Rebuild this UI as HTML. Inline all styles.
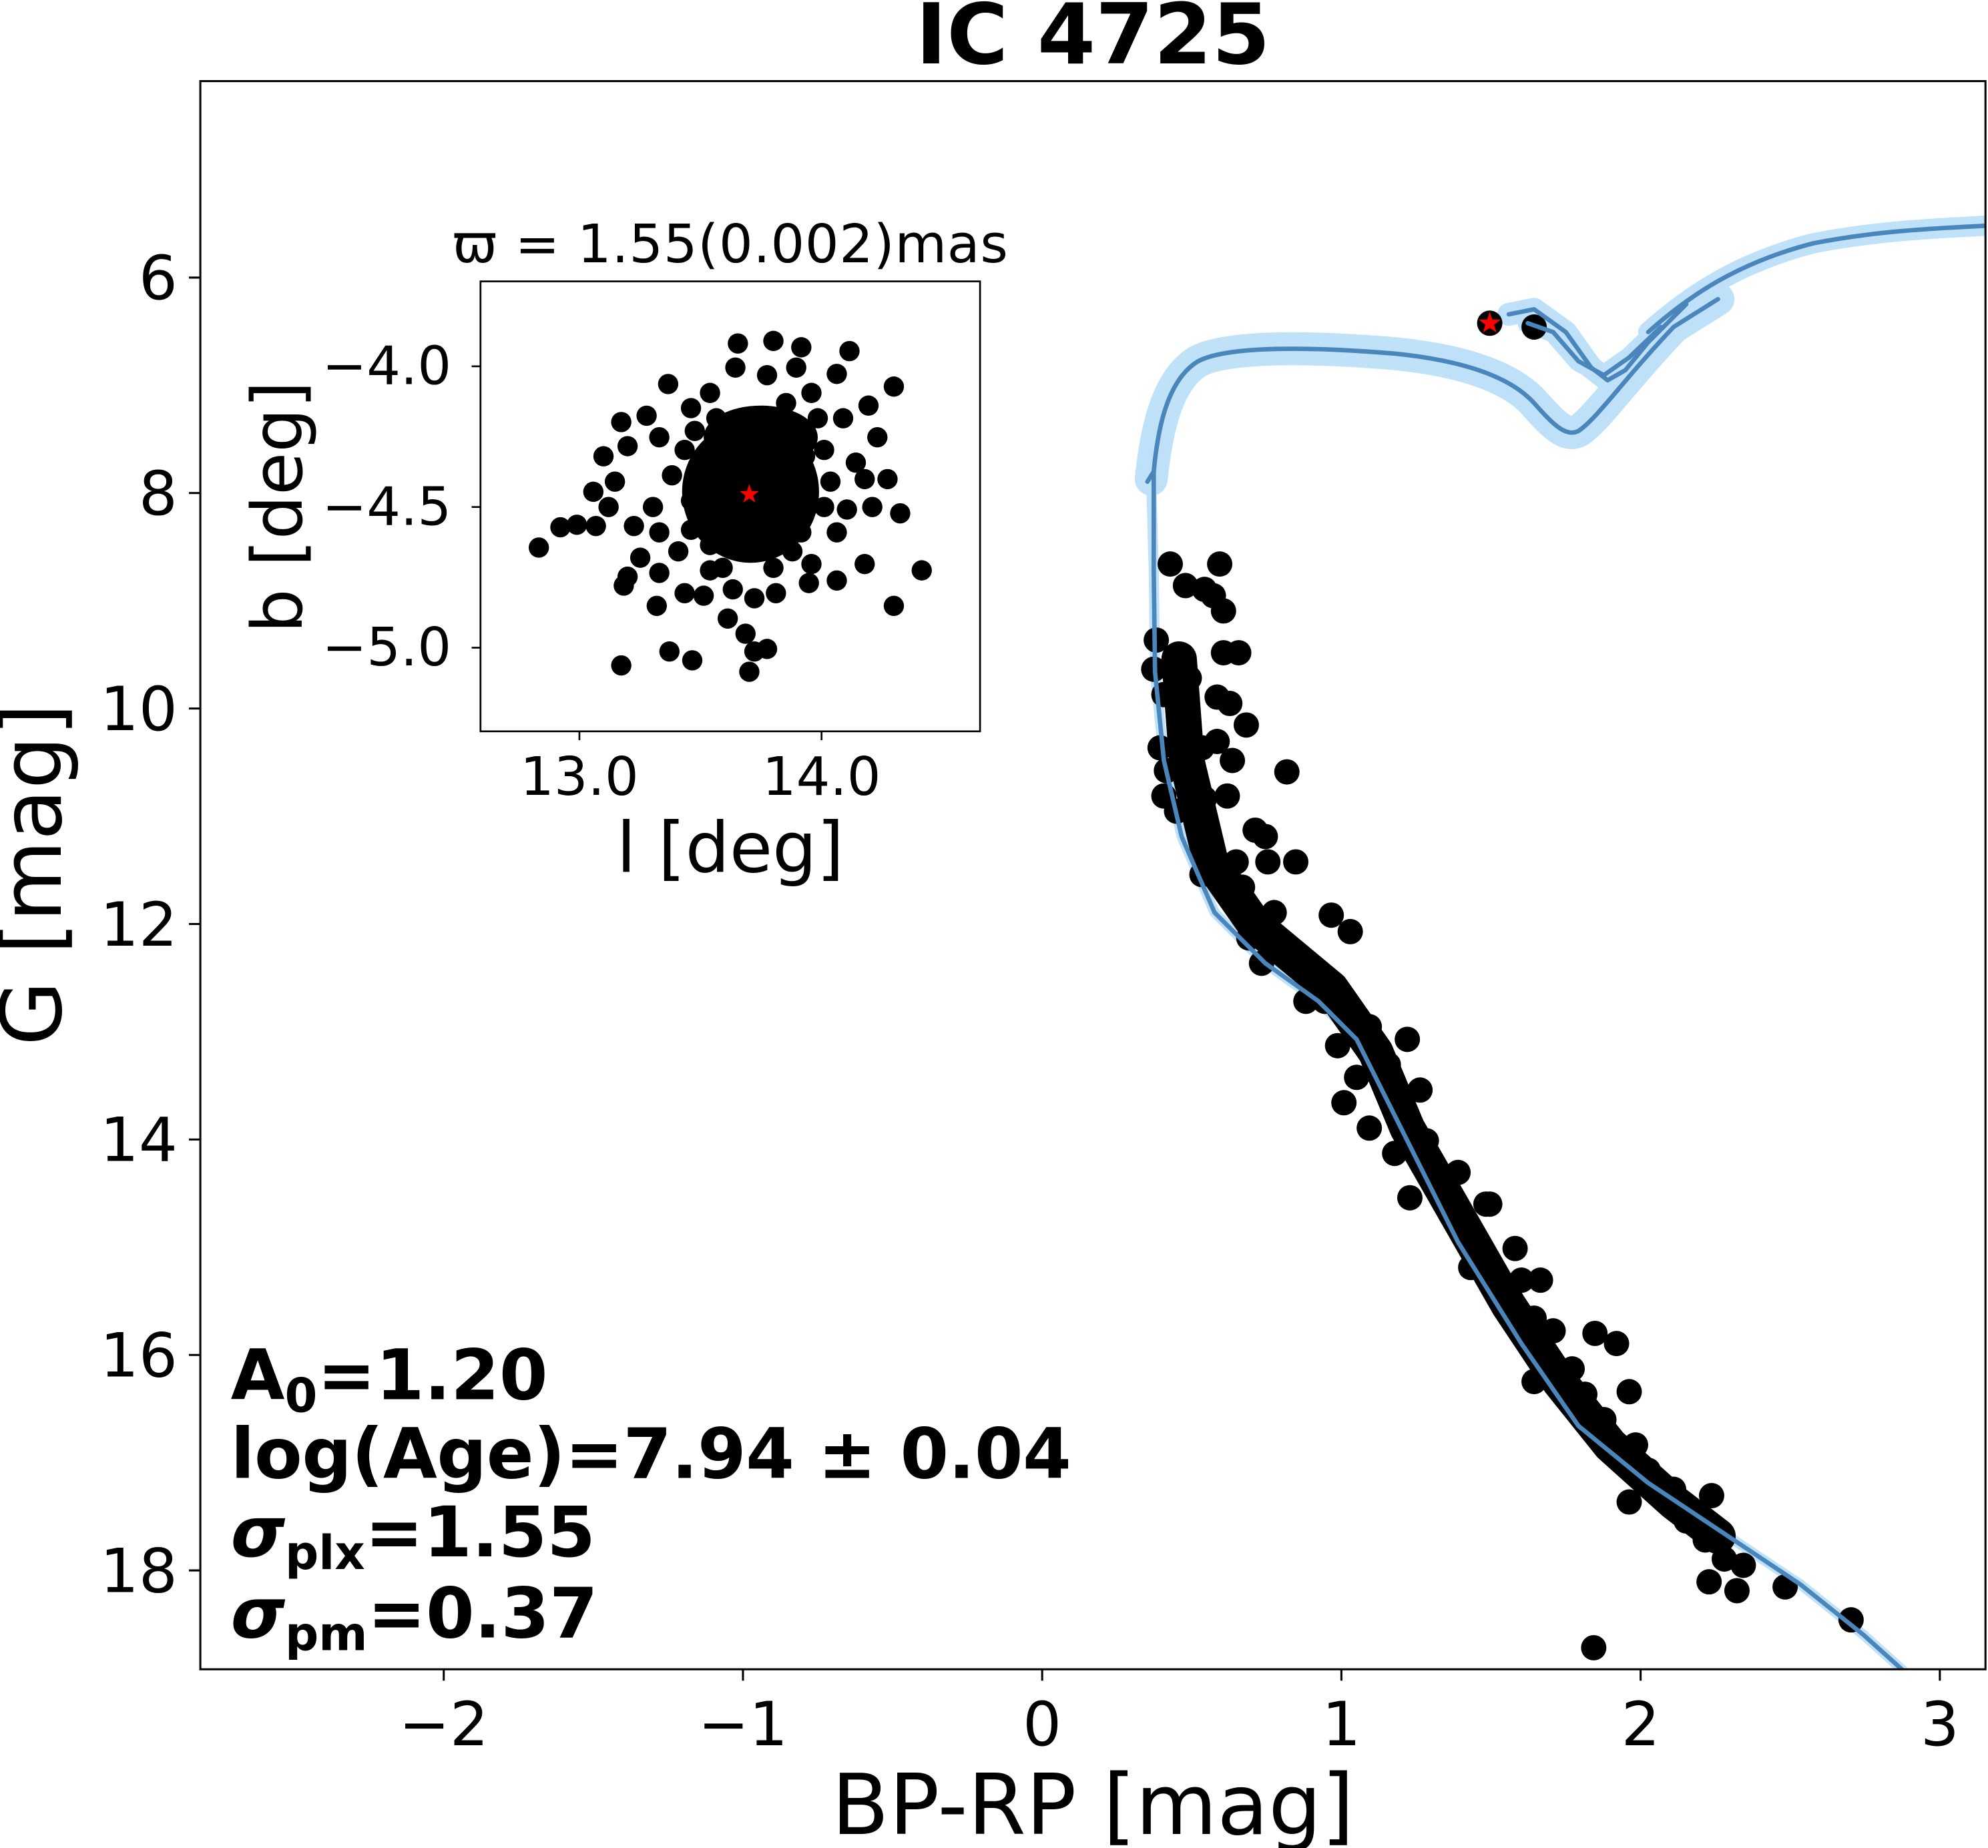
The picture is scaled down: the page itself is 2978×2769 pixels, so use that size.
<!DOCTYPE html>
<html><head><meta charset="utf-8">
<style>html,body{margin:0;padding:0;background:#fff}svg{display:block}
text{font-family:"DejaVu Sans","Liberation Sans",sans-serif}</style></head>
<body>
<svg width="2978" height="2769" viewBox="0 0 1568 1458" preserveAspectRatio="none" xmlns="http://www.w3.org/2000/svg">
<rect width="1568" height="1458" fill="#fff"/>
<defs><clipPath id="c"><rect x="158" y="64" width="1408" height="1253"/></clipPath></defs>
<g clip-path="url(#c)" fill="none" stroke-linejoin="round" stroke-linecap="round">
<g stroke="#a9d8f7" opacity="0.75">
<path stroke-width="26" d="M908,378 C912,340 920,300 945,285 C970,272 1040,274 1100,279 C1150,284 1190,296 1210,318 C1225,335 1235,345 1245,340 C1260,330 1280,300 1320,258 L1355,236"/>
<path stroke-width="18" d="M1190,248 L1210,244 L1235,262 L1255,290 L1268,300 L1282,292 L1300,270 L1330,240"/>
<path stroke-width="16" d="M1205,255 L1225,262 L1245,285 L1265,296 L1285,282 L1310,258"/>
<path stroke-width="16" d="M1300,262 C1340,226 1380,205 1430,192 C1480,182 1530,180 1568,178"/>
<path stroke-width="8" d="M908,380 L910,450 L911,530 L918,600 L932,660 L958,720 L998,760 L1040,790 L1070,820 L1100,880 L1150,980 L1200,1060 L1245,1125 L1300,1170 L1360,1210 L1420,1250 L1470,1290 L1500,1317 L1510,1330"/>
</g>
</g>
<g fill="#000" clip-path="url(#c)">
<path d="M930,520 L936,600 L955,680 L990,730 L1050,780 L1085,830 L1110,890 L1150,960 L1190,1030 L1230,1090 L1270,1140 L1320,1185 L1355,1212" fill="none" stroke="#000" stroke-width="28" stroke-linecap="round" stroke-linejoin="round"/>
<circle cx="923" cy="445" r="10"/><circle cx="935" cy="462" r="10"/><circle cx="950" cy="465" r="10"/><circle cx="962" cy="445" r="10"/><circle cx="957" cy="470" r="10"/><circle cx="965" cy="482" r="10"/><circle cx="912" cy="505" r="10"/><circle cx="910" cy="528" r="10"/><circle cx="918" cy="548" r="10"/><circle cx="932" cy="532" r="10"/><circle cx="938" cy="535" r="10"/><circle cx="965" cy="515" r="10"/><circle cx="977" cy="515" r="10"/><circle cx="960" cy="550" r="10"/><circle cx="970" cy="555" r="10"/><circle cx="983" cy="572" r="10"/><circle cx="915" cy="590" r="10"/><circle cx="920" cy="608" r="10"/><circle cx="940" cy="605" r="10"/><circle cx="948" cy="590" r="10"/><circle cx="960" cy="585" r="10"/><circle cx="972" cy="600" r="10"/><circle cx="1015" cy="609" r="10"/><circle cx="918" cy="628" r="10"/><circle cx="928" cy="640" r="10"/><circle cx="950" cy="630" r="10"/><circle cx="968" cy="628" r="10"/><circle cx="990" cy="655" r="10"/><circle cx="998" cy="660" r="10"/><circle cx="955" cy="665" r="10"/><circle cx="975" cy="680" r="10"/><circle cx="1000" cy="680" r="10"/><circle cx="1022" cy="680" r="10"/><circle cx="948" cy="690" r="10"/><circle cx="980" cy="700" r="10"/><circle cx="1005" cy="720" r="10"/><circle cx="985" cy="740" r="10"/><circle cx="995" cy="760" r="10"/><circle cx="1050" cy="722" r="10"/><circle cx="1065" cy="735" r="10"/><circle cx="1030" cy="765" r="10"/><circle cx="1045" cy="790" r="10"/><circle cx="1060" cy="800" r="10"/><circle cx="1080" cy="810" r="10"/><circle cx="1110" cy="820" r="10"/><circle cx="1095" cy="840" r="10"/><circle cx="1070" cy="850" r="10"/><circle cx="1060" cy="870" r="10"/><circle cx="1080" cy="890" r="10"/><circle cx="1110" cy="880" r="10"/><circle cx="1120" cy="860" r="10"/><circle cx="1125" cy="900" r="10"/><circle cx="1100" cy="910" r="10"/><circle cx="1140" cy="950" r="10"/><circle cx="1175" cy="950" r="10"/><circle cx="1160" cy="1000" r="10"/><circle cx="1200" cy="1010" r="10"/><circle cx="1210" cy="1040" r="10"/><circle cx="1225" cy="1050" r="10"/><circle cx="1258" cy="1052" r="10"/><circle cx="1275" cy="1060" r="10"/><circle cx="1285" cy="1098" r="10"/><circle cx="1250" cy="1100" r="10"/><circle cx="1240" cy="1080" r="10"/><circle cx="1265" cy="1120" r="10"/><circle cx="1290" cy="1140" r="10"/><circle cx="1300" cy="1160" r="10"/><circle cx="1320" cy="1175" r="10"/><circle cx="1350" cy="1180" r="10"/><circle cx="1285" cy="1185" r="10"/><circle cx="1330" cy="1200" r="10"/><circle cx="1345" cy="1215" r="10"/><circle cx="1360" cy="1230" r="10"/><circle cx="1375" cy="1235" r="10"/><circle cx="1348" cy="1248" r="10"/><circle cx="1370" cy="1255" r="10"/><circle cx="1408" cy="1252" r="10"/><circle cx="1460" cy="1278" r="10"/><circle cx="1257" cy="1300" r="10"/><circle cx="1210" cy="1090" r="10"/><circle cx="1210" cy="258" r="10"/><circle cx="1175" cy="255" r="10"/>
<circle cx="1172" cy="950" r="10"/><circle cx="1150" cy="925" r="10"/><circle cx="1130" cy="930" r="10"/><circle cx="1112" cy="945" r="10"/><circle cx="1195" cy="985" r="10"/><circle cx="1215" cy="1010" r="10"/><circle cx="1055" cy="825" r="10"/><circle cx="1030" cy="790" r="10"/>
</g>
<g fill="none" stroke="#4a86bb" stroke-width="3.5" stroke-linejoin="round" stroke-linecap="round" clip-path="url(#c)">
<path d="M905,380 L910,372 C913,340 920,300 945,285 C970,272 1040,274 1100,279 C1150,284 1190,296 1210,318 C1225,335 1235,345 1245,340 C1260,330 1280,300 1320,258 L1355,236"/>
<path d="M1190,248 L1210,244 L1235,262 L1255,290 L1268,300 L1282,292 L1300,270 L1330,240"/>
<path d="M1205,255 L1225,262 L1245,285 L1265,296 L1285,282 L1310,258"/>
<path d="M1300,262 C1340,226 1380,205 1430,192 C1480,182 1530,180 1568,178"/>
<path d="M910,372 L910,450 L911,530 L918,600 L932,660 L958,720 L998,760 L1040,790 L1070,820 L1100,880 L1150,980 L1200,1060 L1245,1125 L1300,1170 L1360,1210 L1420,1250 L1470,1290 L1500,1317 L1510,1330"/>
</g>
<polygon points="1175,246 1177.1,252.1 1183.6,252.2 1178.4,256.2 1180.3,262.3 1175,258.7 1169.7,262.3 1171.6,256.2 1166.4,252.2 1172.9,252.1" fill="#f00"/>
<rect x="158" y="64" width="1408" height="1253" fill="none" stroke="#000" stroke-width="1.6"/>
<g stroke="#000" stroke-width="1.6">
<line x1="350" y1="1317" x2="350" y2="1326"/><line x1="586" y1="1317" x2="586" y2="1326"/><line x1="822" y1="1317" x2="822" y2="1326"/><line x1="1058" y1="1317" x2="1058" y2="1326"/><line x1="1294" y1="1317" x2="1294" y2="1326"/><line x1="1530" y1="1317" x2="1530" y2="1326"/>
<line x1="149" y1="219" x2="158" y2="219"/><line x1="149" y1="389" x2="158" y2="389"/><line x1="149" y1="559" x2="158" y2="559"/><line x1="149" y1="729" x2="158" y2="729"/><line x1="149" y1="899" x2="158" y2="899"/><line x1="149" y1="1069" x2="158" y2="1069"/><line x1="149" y1="1239" x2="158" y2="1239"/>
</g>
<g font-size="48" text-anchor="middle" fill="#000">
<text x="350" y="1377">−2</text><text x="586" y="1377">−1</text><text x="822" y="1377">0</text>
<text x="1058" y="1377">1</text><text x="1294" y="1377">2</text><text x="1530" y="1377">3</text>
</g>
<g font-size="48" text-anchor="end" fill="#000">
<text x="140" y="236">6</text><text x="140" y="406">8</text><text x="140" y="576">10</text>
<text x="140" y="746">12</text><text x="140" y="916">14</text><text x="140" y="1086">16</text><text x="140" y="1256">18</text>
</g>
<text x="862" y="1447" font-size="66" text-anchor="middle">BP-RP [mag]</text>
<text transform="translate(48,690) rotate(-90)" font-size="66" text-anchor="middle">G [mag]</text>
<text x="862" y="50" font-size="66" font-weight="bold" text-anchor="middle">IC 4725</text>
<g font-weight="bold" font-size="55">
<text x="182" y="1104">A<tspan font-size="37" dy="10">0</tspan><tspan dy="-10">=1.20</tspan></text>
<text x="182" y="1166" textLength="663">log(Age)=7.94 ± 0.04</text>
<text x="182" y="1228"><tspan font-style="italic">σ</tspan><tspan font-size="37" dy="10">plx</tspan><tspan dy="-10">=1.55</tspan></text>
<text x="182" y="1292"><tspan font-style="italic">σ</tspan><tspan font-size="37" dy="10">pm</tspan><tspan dy="-10">=0.37</tspan></text>
</g>
<rect x="379" y="222" width="394" height="355" fill="#fff"/>
<g fill="#000">
<ellipse cx="592" cy="388" rx="54" ry="56"/>
<ellipse cx="600" cy="345" rx="45" ry="25"/>
<circle cx="425" cy="432" r="8"/><circle cx="442" cy="416" r="8"/><circle cx="455" cy="414" r="8"/><circle cx="468" cy="388" r="8"/><circle cx="490" cy="525" r="8"/><circle cx="528" cy="514" r="8"/><circle cx="546" cy="521" r="8"/><circle cx="591" cy="530" r="8"/><circle cx="705" cy="478" r="8"/><circle cx="727" cy="450" r="8"/><circle cx="705" cy="305" r="8"/><circle cx="582" cy="271" r="8"/><circle cx="610" cy="269" r="8"/><circle cx="632" cy="274" r="8"/><circle cx="670" cy="277" r="8"/><circle cx="527" cy="303" r="8"/><circle cx="490" cy="333" r="8"/><circle cx="476" cy="360" r="8"/><circle cx="485" cy="380" r="8"/><circle cx="495" cy="352" r="8"/><circle cx="510" cy="328" r="8"/><circle cx="520" cy="345" r="8"/><circle cx="545" cy="322" r="8"/><circle cx="560" cy="310" r="8"/><circle cx="580" cy="290" r="8"/><circle cx="605" cy="296" r="8"/><circle cx="628" cy="290" r="8"/><circle cx="660" cy="295" r="8"/><circle cx="640" cy="310" r="8"/><circle cx="665" cy="330" r="8"/><circle cx="685" cy="320" r="8"/><circle cx="692" cy="345" r="8"/><circle cx="675" cy="365" r="8"/><circle cx="682" cy="378" r="8"/><circle cx="688" cy="400" r="8"/><circle cx="710" cy="405" r="8"/><circle cx="668" cy="402" r="8"/><circle cx="660" cy="420" r="8"/><circle cx="640" cy="445" r="8"/><circle cx="660" cy="458" r="8"/><circle cx="682" cy="445" r="8"/><circle cx="638" cy="460" r="8"/><circle cx="612" cy="468" r="8"/><circle cx="595" cy="472" r="8"/><circle cx="578" cy="465" r="8"/><circle cx="574" cy="488" r="8"/><circle cx="588" cy="500" r="8"/><circle cx="605" cy="512" r="8"/><circle cx="595" cy="514" r="8"/><circle cx="555" cy="470" r="8"/><circle cx="540" cy="468" r="8"/><circle cx="520" cy="452" r="8"/><circle cx="495" cy="455" r="8"/><circle cx="492" cy="462" r="8"/><circle cx="505" cy="440" r="8"/><circle cx="500" cy="415" r="8"/><circle cx="515" cy="400" r="8"/><circle cx="520" cy="420" r="8"/><circle cx="535" cy="435" r="8"/><circle cx="530" cy="375" r="8"/><circle cx="540" cy="355" r="8"/><circle cx="650" cy="355" r="8"/><circle cx="655" cy="380" r="8"/><circle cx="650" cy="400" r="8"/><circle cx="625" cy="435" r="8"/><circle cx="610" cy="448" r="8"/><circle cx="560" cy="450" r="8"/><circle cx="545" cy="418" r="8"/><circle cx="548" cy="340" r="8"/><circle cx="565" cy="330" r="8"/><circle cx="620" cy="318" r="8"/><circle cx="645" cy="330" r="8"/><circle cx="700" cy="378" r="8"/><circle cx="625" cy="410" r="8"/><circle cx="560" cy="430" r="8"/><circle cx="610" cy="430" r="8"/><circle cx="470" cy="415" r="8"/><circle cx="480" cy="400" r="8"/><circle cx="518" cy="478" r="8"/>
<circle cx="635" cy="360" r="8"/><circle cx="545" cy="395" r="8"/><circle cx="570" cy="448" r="8"/><circle cx="632" cy="420" r="8"/><circle cx="555" cy="370" r="8"/>
</g>
<polygon points="591,382 592.9,387.4 598.6,387.5 594.0,391.0 595.7,396.5 591,393.2 586.3,396.5 588.0,391.0 583.4,387.5 589.1,387.4" fill="#f00"/>
<rect x="379" y="222" width="394" height="355" fill="none" stroke="#000" stroke-width="1.4"/>
<g stroke="#000" stroke-width="1.4">
<line x1="457" y1="577" x2="457" y2="584"/><line x1="648" y1="577" x2="648" y2="584"/>
<line x1="372" y1="289" x2="379" y2="289"/><line x1="372" y1="400" x2="379" y2="400"/><line x1="372" y1="511" x2="379" y2="511"/>
</g>
<g font-size="42" fill="#000">
<text x="457" y="627" text-anchor="middle">13.0</text><text x="648" y="627" text-anchor="middle">14.0</text>
<text x="356" y="303" text-anchor="end">−4.0</text><text x="356" y="414" text-anchor="end">−4.5</text><text x="356" y="525" text-anchor="end">−5.0</text>
<text x="576" y="207" text-anchor="middle" textLength="438">ϖ = 1.55(0.002)mas</text>
<text x="576" y="688" text-anchor="middle" font-size="55">l [deg]</text>
<text transform="translate(238,400) rotate(-90)" font-size="55" text-anchor="middle">b [deg]</text>
</g>
</svg>
</body></html>
